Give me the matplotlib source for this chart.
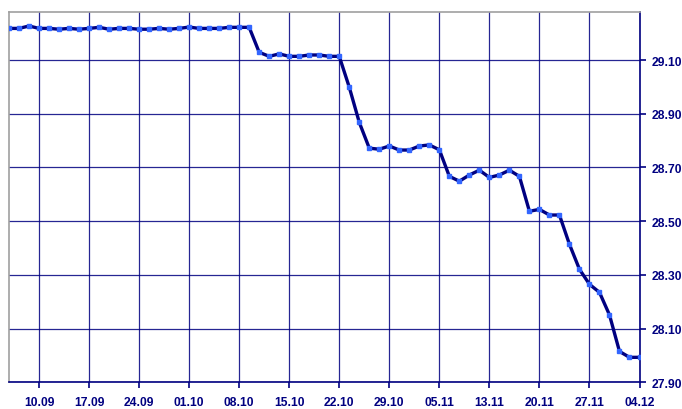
"""Daily rate, Sep-Dec, category axis with weekly labels
"""
import numpy as np
import matplotlib
matplotlib.use("Agg")
import matplotlib.pyplot as plt

# values per trading day (64 points)
rate_values = [
    29.218, 29.218, 29.227, 29.218, 29.218, 29.215, 29.218, 29.215,
    29.218, 29.222, 29.215, 29.218, 29.218, 29.215, 29.215, 29.218,
    29.215, 29.218, 29.223, 29.218, 29.218, 29.218, 29.222, 29.222,
    29.222, 29.129, 29.114, 29.123, 29.114, 29.114, 29.119, 29.119,
    29.114, 29.114, 28.999, 28.868, 28.772, 28.768, 28.780, 28.765,
    28.765, 28.780, 28.784, 28.766, 28.667, 28.649, 28.672, 28.690,
    28.663, 28.672, 28.690, 28.667, 28.537, 28.544, 28.523, 28.523,
    28.414, 28.321, 28.265, 28.235, 28.151, 28.015, 27.993, 27.993,
]
tick_labels = ["10.09", "17.09", "24.09", "01.10", "08.10", "15.10", "22.10",
               "29.10", "05.11", "13.11", "20.11", "27.11", "04.12"]
tick_positions = [3, 8, 13, 18, 23, 28, 33, 38, 43, 48, 53, 58, 63]
y_ticks = [27.90, 28.10, 28.30, 28.50, 28.70, 28.90, 29.10]

navy = "#000080"

fig = plt.figure(figsize=(6.82, 4.10), dpi=100)
ax = fig.add_axes([9 / 682, 1 - 383.3 / 410, 630.5 / 682, 370 / 410])

x_data = np.arange(len(rate_values))
ax.plot(x_data, rate_values, color=navy, linewidth=2.4, zorder=3,
        marker="s", markersize=2.8, markerfacecolor="#3366ff",
        markeredgecolor="#3366ff")

ax.set_xlim(0, len(rate_values) - 1)
ax.set_ylim(27.90, 29.278)

ax.set_xticks(tick_positions)
ax.set_xticklabels(tick_labels)
ax.set_yticks(y_ticks)
ax.set_yticklabels(["%.2f" % v for v in y_ticks])

ax.yaxis.tick_right()
ax.grid(True, color=navy, linewidth=0.9, alpha=0.85)
ax.set_axisbelow(True)

for side in ["left", "top"]:
    ax.spines[side].set_color("#a0a0a0")
    ax.spines[side].set_linewidth(1.2)
for side in ["right", "bottom"]:
    ax.spines[side].set_color(navy)
    ax.spines[side].set_linewidth(1.2)

ax.tick_params(axis="both", direction="out", length=4, width=1.2,
               color=navy, labelcolor=navy, labelsize=8.7)
ax.tick_params(axis="x", pad=6)
ax.tick_params(axis="y", pad=5)
for lbl in ax.get_xticklabels() + ax.get_yticklabels():
    lbl.set_fontfamily("Liberation Sans")
    lbl.set_fontweight("bold")

plt.savefig("out.png", dpi=100)
plt.close()
